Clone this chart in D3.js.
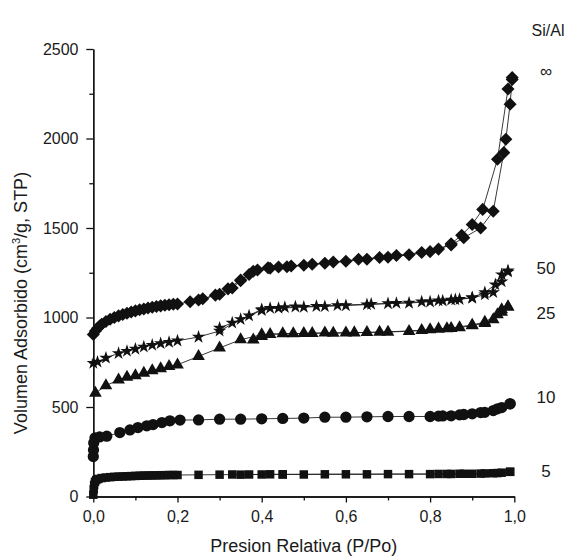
<!DOCTYPE html>
<html>
<head>
<meta charset="utf-8">
<script src="https://cdn.jsdelivr.net/npm/d3@7"></script>
<style>
  body { margin: 0; background: #fff; }
  text { font-family: Arial, "Liberation Sans", sans-serif; fill: #1a1a1a; }
</style>
</head>
<body>
<div id="content"></div>
<script>
// Si/Al = infinito (diamantes)
const infAds = [[0,905],[0.005,925],[0.01,940],[0.015,952],[0.02,962],[0.03,978],[0.04,990],[0.05,1000],[0.06,1009],[0.07,1017],[0.08,1024],[0.09,1031],[0.10,1037],[0.11,1043],[0.12,1048],[0.13,1053],[0.14,1057],[0.15,1061],[0.16,1065],[0.17,1068],[0.18,1071],[0.19,1074],[0.20,1076],[0.23,1088],[0.26,1105],[0.29,1125],[0.32,1160],[0.35,1210],[0.38,1258],[0.42,1275],[0.46,1283],[0.50,1292],[0.55,1303],[0.60,1314],[0.65,1326],[0.70,1337],[0.75,1350],[0.80,1368],[0.85,1405],[0.88,1445],[0.92,1500],[0.95,1594],[0.975,1921],[0.98,1996],[0.99,2192],[0.995,2330]];
const infDes = [[0.995,2341],[0.985,2276],[0.96,1884],[0.925,1604],[0.90,1520],[0.875,1460],[0.85,1412],[0.82,1382],[0.78,1363],[0.72,1346],[0.68,1335],[0.63,1325],[0.57,1310],[0.52,1297],[0.47,1288],[0.44,1282],[0.415,1278],[0.39,1265],[0.37,1240],[0.35,1205],[0.33,1165],[0.30,1130],[0.25,1098]];
// Si/Al = 50 (estrellas)
const s50Ads = [[0,745],[0.01,752],[0.03,774],[0.06,800],[0.08,812],[0.10,824],[0.12,836],[0.14,846],[0.16,855],[0.18,862],[0.20,870],[0.25,891],[0.30,925],[0.35,990],[0.40,1045],[0.44,1052],[0.50,1058],[0.55,1062],[0.60,1067],[0.65,1072],[0.70,1078],[0.75,1081],[0.80,1088],[0.83,1093],[0.85,1098],[0.87,1102],[0.90,1109],[0.93,1128],[0.95,1140],[0.97,1200],[0.985,1255]];
const s50Des = [[0.985,1262],[0.97,1240],[0.955,1184],[0.93,1140],[0.90,1112],[0.86,1100],[0.82,1094],[0.78,1088],[0.72,1080],[0.66,1075],[0.58,1068],[0.53,1063],[0.48,1060],[0.455,1057],[0.42,1052],[0.40,1040],[0.37,1010],[0.33,970],[0.30,942]];
// Si/Al = 25 (triangulos)
const s25Ads = [[0.005,578],[0.03,619],[0.06,652],[0.08,667],[0.10,675],[0.12,690],[0.14,703],[0.16,714],[0.18,727],[0.20,736],[0.25,783],[0.30,830],[0.35,876],[0.40,904],[0.45,910],[0.50,911],[0.55,914],[0.60,914],[0.65,917],[0.70,919],[0.75,923],[0.80,932],[0.82,936],[0.85,940],[0.87,944],[0.90,955],[0.93,968],[0.95,988],[0.97,1030],[0.985,1059]];
const s25Des = [[0.985,1059],[0.97,1044],[0.96,1016],[0.93,975],[0.90,958],[0.84,938],[0.78,928],[0.68,918],[0.62,915],[0.57,913],[0.52,912],[0.475,910],[0.42,906],[0.40,895],[0.38,875]];
// Si/Al = 10 (circulos)
const s10Ads = [[0,223],[0.0005,260],[0.001,299],[0.004,327],[0.015,333],[0.032,337],[0.063,357],[0.087,372],[0.106,385],[0.127,395],[0.142,402],[0.163,413],[0.182,423],[0.206,427],[0.25,428],[0.30,432],[0.35,432],[0.40,434],[0.45,436],[0.50,438],[0.55,443],[0.60,443],[0.65,445],[0.70,447],[0.75,447],[0.80,447],[0.82,449],[0.85,451],[0.87,456],[0.90,462],[0.92,469],[0.95,480],[0.97,497],[0.99,518]];
const s10Des = [[0.99,518],[0.96,490],[0.93,470],[0.88,458],[0.83,450]];
// Si/Al = 5 (cuadrados)
const s5Ads = [[0,10],[0.001,40],[0.002,65],[0.004,82],[0.007,92],[0.012,98],[0.02,103],[0.03,106],[0.04,108],[0.05,110],[0.06,111],[0.07,112],[0.08,113],[0.09,114],[0.10,115],[0.11,116],[0.12,117],[0.13,117],[0.14,118],[0.15,118],[0.16,119],[0.17,119],[0.18,120],[0.19,120],[0.20,120],[0.25,121],[0.30,122],[0.35,122],[0.40,123],[0.45,123],[0.50,123],[0.55,124],[0.60,124],[0.65,124],[0.70,125],[0.75,125],[0.80,125],[0.82,126],[0.85,126],[0.87,127],[0.90,127],[0.92,128],[0.95,130],[0.97,133],[0.99,138]];
const s5Des = [[0.99,138],[0.96,131],[0.93,129],[0.88,127],[0.84,126],[0.45,124],[0.42,124],[0.37,123],[0.33,123]];

const seriesNames = ["∞", "50", "25", "10", "5"];
const labelValues = [2377, 1279, 1027, 557, 143];
const xTickLabels = ["0,0", "0,2", "0,4", "0,6", "0,8", "1,0"];
const yTickValues = [0, 500, 1000, 1500, 2000, 2500];

const width = 568, height = 559;
const svg = d3.select("#content").append("svg")
    .attr("width", width).attr("height", height);

const xScale = d3.scaleLinear().domain([0, 1]).range([93.3, 514.3]);
const yScale = d3.scaleLinear().domain([0, 2500]).range([496.5, 49]);

const series = [
  { ads: infAds, des: infDes, sym: "diamond" },
  { ads: s50Ads, des: s50Des, sym: "star" },
  { ads: s25Ads, des: s25Des, sym: "triangle" },
  { ads: s10Ads, des: s10Des, sym: "circle" },
  { ads: s5Ads, des: s5Des, sym: "square" }
];

const symbols = {
  diamond: d3.symbol().type(d3.symbolSquare).size(85),
  star: d3.symbol().type(d3.symbolStar).size(55),
  triangle: d3.symbol().type(d3.symbolTriangle).size(70),
  circle: d3.symbol().type(d3.symbolCircle).size(100),
  square: d3.symbol().type(d3.symbolSquare).size(72)
};

const line = d3.line().x(d => xScale(d[0])).y(d => yScale(d[1]));

series.forEach(s => {
  [s.ads, s.des].forEach(branch => {
    svg.append("path")
      .attr("d", line(branch))
      .attr("fill", "none")
      .attr("stroke", "#222")
      .attr("stroke-width", 0.9);
  });
  svg.append("g").selectAll("path")
    .data(s.ads.concat(s.des))
    .enter().append("path")
    .attr("d", symbols[s.sym])
    .attr("transform", d => `translate(${xScale(d[0])},${yScale(d[1])})` + (s.sym === "diamond" ? " rotate(45)" : ""))
    .attr("fill", "#111");
});

// ejes
const xAxis = d3.axisBottom(xScale)
  .tickValues([0, 0.2, 0.4, 0.6, 0.8, 1.0])
  .tickFormat((d, i) => xTickLabels[i])
  .tickSize(6).tickSizeOuter(0);
const xMinor = d3.axisBottom(xScale)
  .tickValues([0.1, 0.3, 0.5, 0.7, 0.9])
  .tickFormat("").tickSize(4).tickSizeOuter(0);
const yAxis = d3.axisLeft(yScale)
  .tickValues(yTickValues).tickFormat(d3.format("d")).tickSize(7).tickSizeOuter(0);
const yMinor = d3.axisLeft(yScale)
  .tickValues([250, 750, 1250, 1750, 2250]).tickFormat("").tickSize(4).tickSizeOuter(0);

const gx = svg.append("g").attr("transform", `translate(0,${yScale(0)})`).call(xAxis);
svg.append("g").attr("transform", `translate(0,${yScale(0)})`).call(xMinor);
const gy = svg.append("g").attr("transform", `translate(${xScale(0)},0)`).call(yAxis);
svg.append("g").attr("transform", `translate(${xScale(0)},0)`).call(yMinor);

svg.selectAll(".domain, .tick line").attr("stroke", "#111").attr("stroke-width", 1.3);
gx.selectAll("text").attr("font-size", 16).attr("dy", "1.05em");
gy.selectAll("text").attr("font-size", 16).attr("dx", "-0.3em");

// titulos
svg.append("text")
  .attr("x", (xScale(0) + xScale(1)) / 2).attr("y", 552)
  .attr("text-anchor", "middle").attr("font-size", 18)
  .text("Presion Relativa (P/Po)");

const yt = svg.append("text")
  .attr("transform", `translate(27,303) rotate(-90)`)
  .attr("text-anchor", "middle").attr("font-size", 18);
yt.append("tspan").text("Volumen Adsorbido (cm");
yt.append("tspan").attr("font-size", 11).attr("dy", -7).text("3");
yt.append("tspan").attr("dy", 7).text("/g, STP)");

// etiquetas Si/Al
svg.append("text").attr("x", 548).attr("y", 36)
  .attr("text-anchor", "middle").attr("font-size", 16).text("Si/Al");
svg.selectAll(".serie-label").data(seriesNames).enter().append("text")
  .attr("x", 546).attr("y", (d, i) => yScale(labelValues[i]))
  .attr("dy", "0.35em").attr("text-anchor", "middle").attr("font-size", 17)
  .text(d => d);
</script>
</body>
</html>
